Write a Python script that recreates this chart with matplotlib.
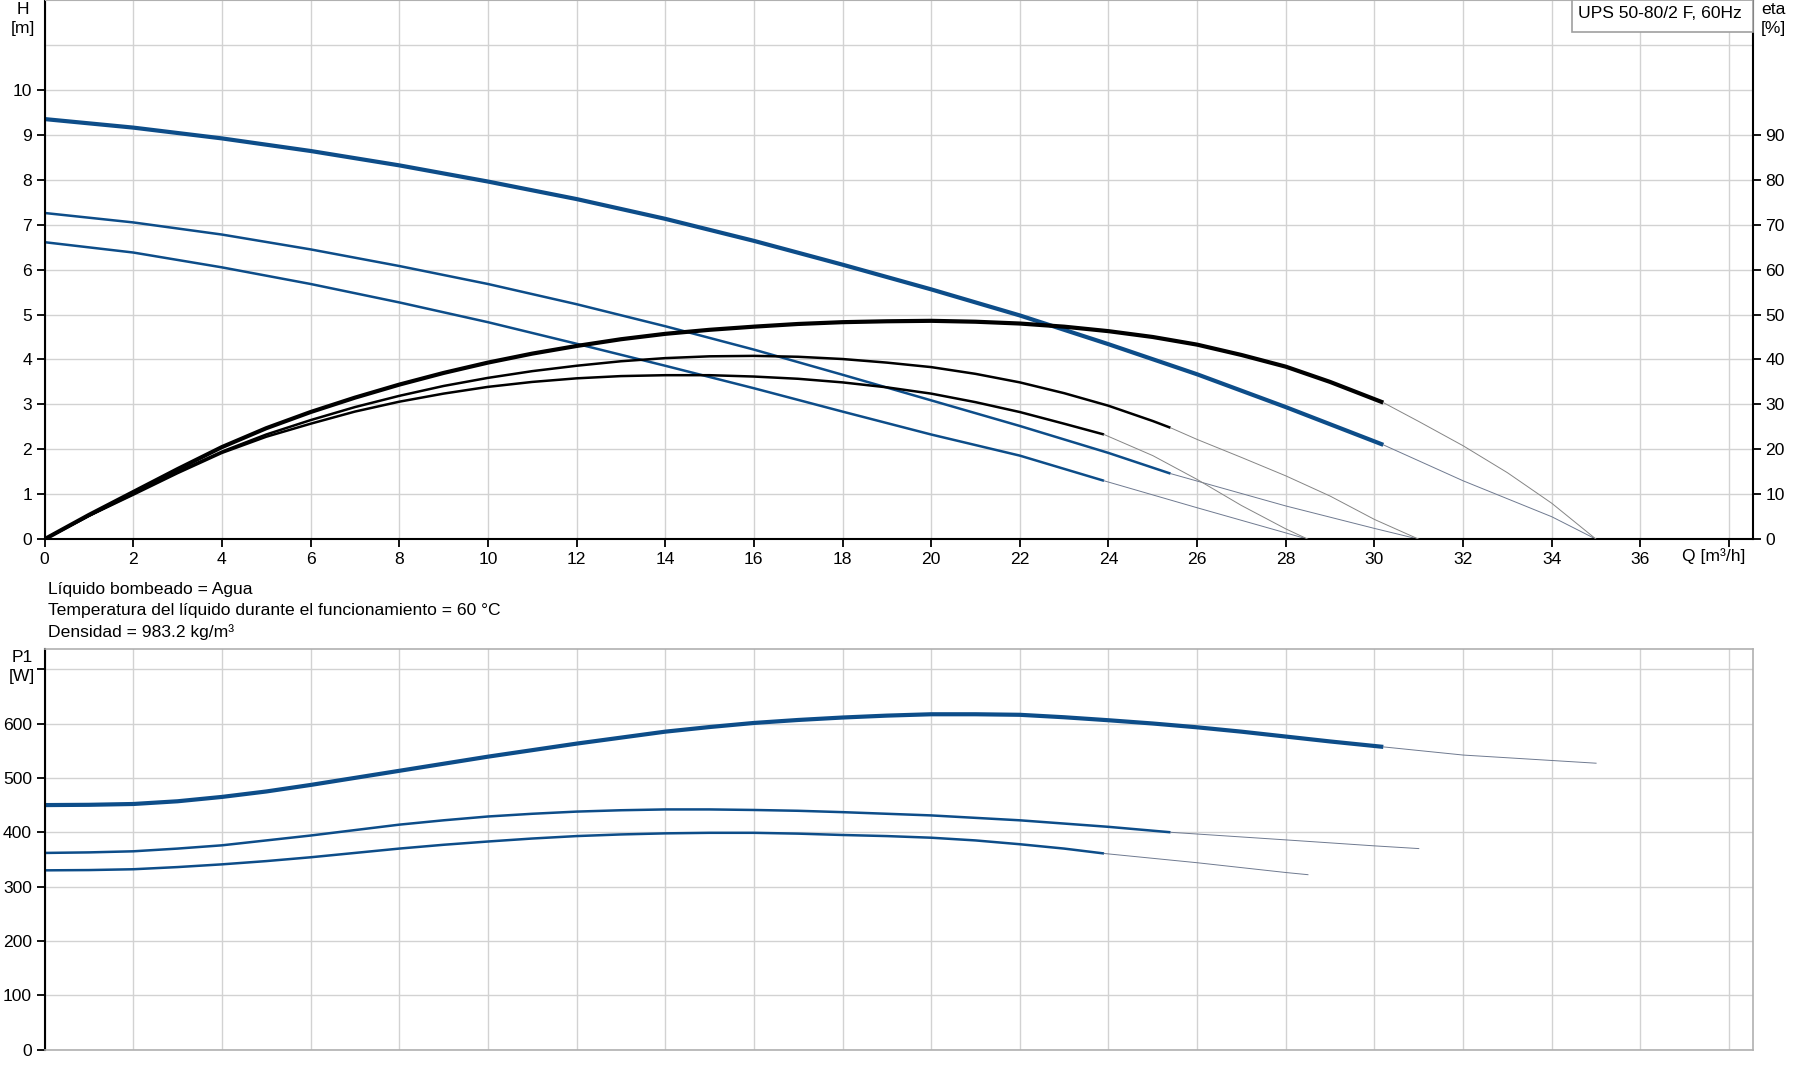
import matplotlib
matplotlib.use('Agg')
import matplotlib.pyplot as plt
from matplotlib.patches import Rectangle
from matplotlib.ticker import FixedLocator

plt.rcParams['font.family'] = ['Liberation Sans', 'DejaVu Sans']

BLUE = '#0d4d89'
GRID = '#d2d2d2'
EXT = '#858585'
EXT_BLUE = '#6f7a90'
FS = 12.6

# --- H curves (m) vs Q (m3/h), three speeds ---
q_h1 = [0, 2, 4, 6, 8, 10, 12, 14, 16, 18, 20, 22, 24, 26, 28, 30.2]
h1 = [9.35, 9.16, 8.92, 8.64, 8.32, 7.96, 7.57, 7.13, 6.64, 6.11, 5.56, 4.98, 4.34, 3.67, 2.94, 2.10]
q_h1_ext = [30.2, 32, 34, 35]
h1_ext = [2.10, 1.30, 0.50, 0.0]

q_h2 = [0, 2, 4, 6, 8, 10, 12, 14, 16, 18, 20, 22, 24, 25.4]
h2 = [7.26, 7.05, 6.78, 6.45, 6.08, 5.68, 5.23, 4.74, 4.22, 3.66, 3.09, 2.52, 1.92, 1.46]
q_h2_ext = [25.4, 28, 30, 31]
h2_ext = [1.46, 0.74, 0.24, 0.0]

q_h3 = [0, 2, 4, 6, 8, 10, 12, 14, 16, 18, 20, 22, 23.9]
h3 = [6.61, 6.38, 6.05, 5.68, 5.27, 4.83, 4.35, 3.86, 3.36, 2.84, 2.33, 1.86, 1.30]
q_h3_ext = [23.9, 26, 28.5]
h3_ext = [1.30, 0.70, 0.0]

# --- efficiency (%) ---
q_e1 = [0, 1, 2, 3, 4, 5, 6, 7, 8, 9, 10, 11, 12, 13, 14, 15, 16, 17, 18, 19, 20,
        21, 22, 23, 24, 25, 26, 27, 28, 29, 30.2]
eta1 = [0, 5.4, 10.5, 15.6, 20.5, 24.7, 28.3, 31.5, 34.4, 37.0, 39.3, 41.3, 43.0, 44.5, 45.7,
        46.6, 47.3, 47.9, 48.3, 48.5, 48.6, 48.4, 48.0, 47.3, 46.3, 45.0, 43.3, 41.0, 38.4,
        35.0, 30.4]
q_e1_ext = [30.2, 31, 32, 33, 34, 35]
eta1_ext = [30.4, 26.2, 20.8, 14.8, 8.0, 0.0]

q_e2 = [0, 1, 2, 3, 4, 5, 6, 7, 8, 9, 10, 11, 12, 13, 14, 15, 16, 17, 18, 19, 20,
        21, 22, 23, 24, 25, 25.4]
eta2 = [0, 5.2, 10.1, 15.0, 19.5, 23.3, 26.5, 29.4, 31.9, 34.1, 35.9, 37.4, 38.6, 39.6, 40.3,
        40.7, 40.8, 40.6, 40.1, 39.3, 38.3, 36.8, 34.9, 32.5, 29.7, 26.3, 24.8]
q_e2_ext = [25.4, 26, 27, 28, 29, 30, 31]
eta2_ext = [24.8, 22.2, 18.2, 14.1, 9.6, 4.4, 0.0]

q_e3 = [0, 1, 2, 3, 4, 5, 6, 7, 8, 9, 10, 11, 12, 13, 14, 15, 16, 17, 18, 19, 20,
        21, 22, 23, 23.9]
eta3 = [0, 5.2, 9.9, 14.7, 19.2, 22.8, 25.7, 28.4, 30.6, 32.4, 33.9, 35.0, 35.8, 36.3, 36.5,
        36.5, 36.2, 35.7, 34.9, 33.8, 32.4, 30.5, 28.3, 25.7, 23.3]
q_e3_ext = [23.9, 25, 26, 27, 28, 28.5]
eta3_ext = [23.3, 18.6, 13.3, 7.5, 2.3, 0.0]

# --- power P1 (W) ---
q_p1 = [0, 1, 2, 3, 4, 5, 6, 7, 8, 9, 10, 11, 12, 13, 14, 15, 16, 17, 18, 19, 20,
        21, 22, 23, 24, 25, 26, 27, 28, 29, 30.2]
p1 = [450, 450.5, 452, 457, 465, 475, 487, 500, 513, 526, 539, 551, 563, 574, 585, 593.5,
      601, 606.5, 611, 614.5, 617, 617, 616, 611.5, 606, 600, 593, 585, 576, 567, 557]
q_p1_ext = [30.2, 32, 34, 35]
p1_ext = [557, 542, 532, 527]

q_p2 = [0, 1, 2, 3, 4, 5, 6, 7, 8, 9, 10, 11, 12, 13, 14, 15, 16, 17, 18, 19, 20,
        21, 22, 23, 24, 25.4]
p2 = [362, 363, 365, 370, 376, 385, 394, 404, 414, 422, 429, 434, 438, 440.5, 442, 442,
      441, 439.5, 437, 434, 431, 426.5, 422, 416, 410, 400]
q_p2_ext = [25.4, 28, 30, 31]
p2_ext = [400, 386, 375, 370]

q_p3 = [0, 1, 2, 3, 4, 5, 6, 7, 8, 9, 10, 11, 12, 13, 14, 15, 16, 17, 18, 19, 20,
        21, 22, 23, 23.9]
p3 = [330, 330.5, 332, 336, 341, 347, 354, 362, 370, 377, 383, 388.5, 393, 396, 398, 399,
      399, 397.5, 395, 393, 390, 385, 378, 370, 361]
q_p3_ext = [23.9, 26, 28, 28.5]
p3_ext = [361, 344, 326, 322]

x_ticks = list(range(0, 40, 2))
x_labels = [str(v) for v in range(0, 38, 2)] + ['']
info_lines = ['Líquido bombeado = Agua',
              'Temperatura del líquido durante el funcionamiento = 60 °C',
              'Densidad = 983.2 kg/m³']

W, H = 1795, 1081
fig = plt.figure(figsize=(W / 100, H / 100), dpi=100)

def fx(px):
    return px / W

def fy(py):
    return 1 - py / H

# upper chart: H and eta
ax = fig.add_axes([fx(44.6), fy(539.2), fx(1753) - fx(44.6), fy(0) - fy(539.2)])
ax.set_xlim(0, 38.54)
ax.set_ylim(0, 12)
ax.set_xticks(x_ticks)
ax.set_xticklabels(x_labels)
ax.set_yticks(range(0, 11))
ax.yaxis.set_minor_locator(FixedLocator([11]))
ax.tick_params(which='minor', length=0)
ax.grid(True, which='both', color=GRID, lw=1)
ax.set_axisbelow(True)
ax.tick_params(direction='out', length=6, width=1.3, labelsize=FS, pad=3)
for s in ['left', 'bottom']:
    ax.spines[s].set_linewidth(1.5)
ax.spines['top'].set_color('#b0b0b0')
ax.spines['right'].set_visible(False)

for q, h, lw in [(q_h1, h1, 3.0), (q_h2, h2, 1.8), (q_h3, h3, 1.8)]:
    ax.plot(q, h, color=BLUE, lw=lw, solid_capstyle='butt', solid_joinstyle='round')
for q, h in [(q_h1_ext, h1_ext), (q_h2_ext, h2_ext), (q_h3_ext, h3_ext)]:
    ax.plot(q, h, color=EXT_BLUE, lw=0.7)

ax2 = ax.twinx()
ax2.set_ylim(0, 120)
ax2.set_yticks(range(0, 100, 10))
ax2.tick_params(direction='out', length=6, width=1.3, labelsize=FS, pad=3)
ax2.spines['right'].set_linewidth(1.5)
for s in ['left', 'top', 'bottom']:
    ax2.spines[s].set_visible(False)
for q, e, lw in [(q_e1, eta1, 3.0), (q_e2, eta2, 1.8), (q_e3, eta3, 1.8)]:
    ax2.plot(q, e, color='black', lw=lw, solid_capstyle='butt', solid_joinstyle='round')
for q, e in [(q_e1_ext, eta1_ext), (q_e2_ext, eta2_ext), (q_e3_ext, eta3_ext)]:
    ax2.plot(q, e, color=EXT, lw=0.7)

fig.text(fx(22.9), fy(9.2), 'H', ha='center', va='center', fontsize=FS)
fig.text(fx(22.9), fy(28.6), '[m]', ha='center', va='center', fontsize=FS)
fig.text(fx(1773), fy(9.2), 'eta', ha='center', va='center', fontsize=FS)
fig.text(fx(1773), fy(28.6), '[%]', ha='center', va='center', fontsize=FS)
fig.text(fx(1745), fy(556.5), 'Q [m³/h]', ha='right', va='center', fontsize=FS)

# model box
fig.patches.append(Rectangle((fx(1572), fy(32)), fx(1753) - fx(1572), fy(0) - fy(32),
                             transform=fig.transFigure, facecolor='white',
                             edgecolor='#a0a0a0', lw=1.2, zorder=5))
fig.text(fx(1578), fy(14), 'UPS 50-80/2 F, 60Hz', ha='left', va='center', fontsize=FS, zorder=6)

for i, line in enumerate(info_lines):
    fig.text(fx(48), fy(589.6 + i * 21.3), line, ha='left', va='center', fontsize=FS)

# lower chart: P1
bx = fig.add_axes([fx(44.6), fy(1049.8), fx(1753) - fx(44.6), fy(649) - fy(1049.8)])
bx.set_xlim(0, 38.54)
bx.set_ylim(0, 737)
bx.set_xticks(x_ticks)
bx.tick_params(axis='x', length=0, labelbottom=False)
bx.set_yticks(range(0, 800, 100))
bx.set_yticklabels([str(v) for v in range(0, 700, 100)] + [''])
bx.tick_params(axis='y', direction='out', length=6, width=1.3, labelsize=FS, pad=3)
bx.grid(True, color=GRID, lw=1)
bx.set_axisbelow(True)
bx.spines['left'].set_linewidth(1.5)
for s in ['top', 'right', 'bottom']:
    bx.spines[s].set_color('#b0b0b0')
    bx.spines[s].set_linewidth(1.2)

for q, p, lw in [(q_p1, p1, 3.0), (q_p2, p2, 1.8), (q_p3, p3, 1.8)]:
    bx.plot(q, p, color=BLUE, lw=lw, solid_capstyle='butt', solid_joinstyle='round')
for q, p in [(q_p1_ext, p1_ext), (q_p2_ext, p2_ext), (q_p3_ext, p3_ext)]:
    bx.plot(q, p, color=EXT_BLUE, lw=0.7)

fig.text(fx(21.8), fy(657), 'P1', ha='center', va='center', fontsize=FS)
fig.text(fx(21.8), fy(676.6), '[W]', ha='center', va='center', fontsize=FS)

fig.savefig('out.png', dpi=100)
